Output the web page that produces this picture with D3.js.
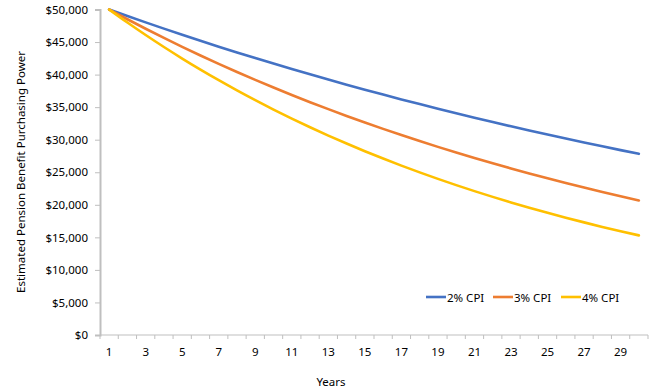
<!DOCTYPE html>
<html><head><meta charset="utf-8">
<script src="https://cdn.jsdelivr.net/npm/d3@7"></script>
<style>body{margin:0;background:#fff}svg{display:block}text{font-family:"Noto Sans",sans-serif;fill:#000}</style>
</head><body><svg id="c" width="663" height="390"></svg>
<script>
const years = d3.range(1, 31);
const seriesNames = ["2% CPI", "3% CPI", "4% CPI"];
const cpi2 = [50000,49000,48020,47060,46118,45196,44292,43406,42538,41687,40854,40037,39236,38451,37682,36929,36190,35466,34757,34062,33380,32713,32059,31417,30789,30173,29570,28978,28399,27831];
const cpi3 = [50000,48500,47045,45634,44265,42937,41649,40399,39187,38011,36871,35765,34692,33651,32642,31662,30713,29791,28897,28031,27190,26374,25583,24815,24071,23349,22648,21969,21310,20670];
const cpi4 = [50000,48000,46080,44237,42467,40769,39138,37572,36069,34627,33242,31912,30635,29410,28234,27104,26020,24979,23980,23021,22100,21216,20367,19553,18771,18020,17299,16607,15943,15305];
const yTicks = [0,5000,10000,15000,20000,25000,30000,35000,40000,45000,50000];
const colors = ["#4472C4", "#ED7D31", "#FFC000"];
const data = [cpi2, cpi3, cpi4];

const svg = d3.select("#c");
const L = 100, R = 648, T = 9.5, B = 335;
const x = d3.scaleBand().domain(years).range([L, R]);
const y = d3.scaleLinear().domain([0, 50000]).range([B, T]);

// y axis
const ya = svg.append("g").attr("transform", `translate(${L},0)`)
  .call(d3.axisLeft(y).tickValues(yTicks).tickSize(5).tickPadding(7)
    .tickFormat(d => "$" + d3.format(",")(d)));
ya.select(".domain").attr("stroke", "#bfbfbf").attr("stroke-width", 2);
ya.selectAll(".tick line").attr("stroke", "#bfbfbf");
ya.selectAll(".tick text").attr("font-size", 11.5).style("font-family", '"Noto Sans",sans-serif');

// x axis
const xa = svg.append("g").attr("transform", `translate(0,${B})`);
xa.append("line").attr("x1", L).attr("x2", R).attr("stroke", "#bfbfbf").attr("stroke-width", 1);
const bounds = years.map(d => x(d)).concat([R]);
xa.selectAll("line.t").data(bounds).join("line").attr("class", "t")
  .attr("x1", d => d).attr("x2", d => d).attr("y1", 0).attr("y2", 4).attr("stroke", "#bfbfbf");
xa.selectAll("text").data(years.filter(d => d % 2 === 1)).join("text")
  .attr("x", d => x(d) + x.bandwidth() / 2).attr("y", 21)
  .attr("text-anchor", "middle").attr("font-size", 11.5).text(d => d);

// lines
const line = d3.line().x((d, i) => x(years[i]) + x.bandwidth() / 2).y(d => y(d)).curve(d3.curveMonotoneX);
data.forEach((s, k) => {
  svg.append("path").datum(s).attr("d", line).attr("fill", "none")
    .attr("stroke", colors[k]).attr("stroke-width", 2.6).attr("stroke-linecap", "round");
});

// axis titles
svg.append("text").attr("transform", "translate(20,172) rotate(-90)")
  .attr("text-anchor", "middle").attr("dominant-baseline", "central").attr("font-size", 11.5)
  .text("Estimated Pension Benefit Purchasing Power");
svg.append("text").attr("x", 331).attr("y", 381).attr("text-anchor", "middle")
  .attr("dominant-baseline", "central").attr("font-size", 11.5).text("Years");

// legend
const lx = [426, 493, 561];
seriesNames.forEach((n, k) => {
  svg.append("line").attr("x1", lx[k]).attr("x2", lx[k] + 20).attr("y1", 297).attr("y2", 297)
    .attr("stroke", colors[k]).attr("stroke-width", 2.6);
  svg.append("text").attr("x", lx[k] + 21).attr("y", 297).attr("dominant-baseline", "central")
    .attr("font-size", 11.5).text(n);
});
</script></body></html>
